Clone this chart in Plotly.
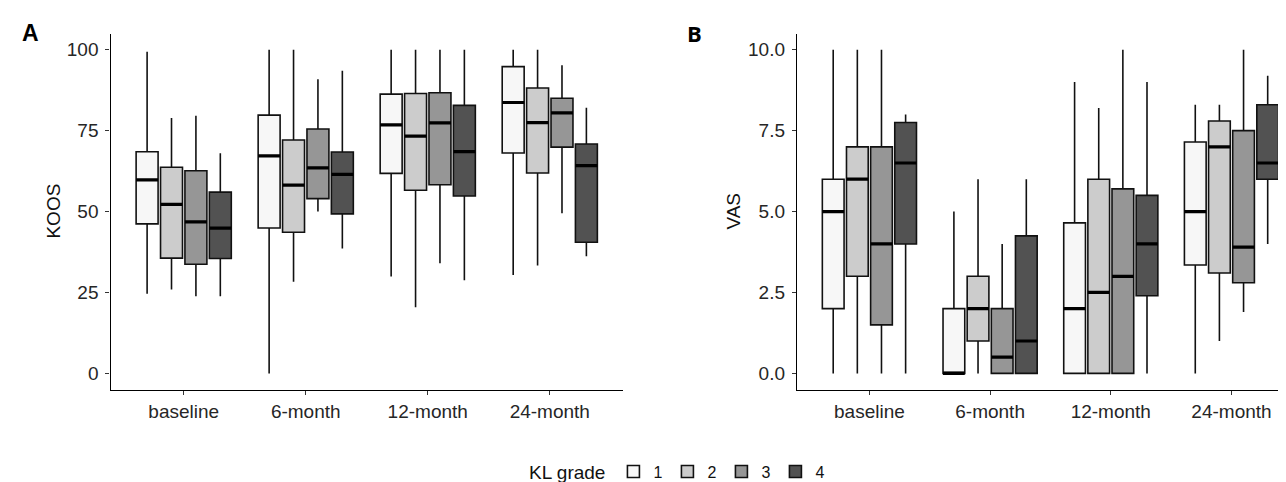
import plotly.graph_objects as go

timepoints = ["baseline", "6-month", "12-month", "24-month"]
grades = ["1", "2", "3", "4"]
fills = ["#F7F7F7", "#CCCCCC", "#969696", "#525252"]

# KOOS (panel A): per KL grade, values across timepoints
koos_low = {
    "1": [24.6, 0.0, 29.9, 30.4],
    "2": [25.9, 28.3, 20.4, 33.3],
    "3": [23.8, 50.0, 34.0, 49.5],
    "4": [23.8, 38.6, 28.8, 36.2],
}
koos_q1 = {
    "1": [46.2, 44.9, 61.8, 68.1],
    "2": [35.6, 43.6, 56.6, 61.9],
    "3": [33.7, 54.0, 58.3, 69.9],
    "4": [35.5, 49.3, 54.8, 40.5],
}
koos_med = {
    "1": [59.8, 67.2, 76.8, 83.7],
    "2": [52.2, 58.2, 73.3, 77.5],
    "3": [46.8, 63.5, 77.4, 80.5],
    "4": [44.9, 61.5, 68.5, 64.2],
}
koos_q3 = {
    "1": [68.5, 79.8, 86.3, 94.8],
    "2": [63.7, 72.1, 86.5, 88.2],
    "3": [62.6, 75.5, 86.7, 85.0],
    "4": [56.0, 68.4, 82.8, 70.9],
}
koos_high = {
    "1": [99.4, 100.0, 100.0, 100.0],
    "2": [78.9, 100.0, 100.0, 100.0],
    "3": [79.6, 90.9, 100.0, 95.2],
    "4": [68.0, 93.5, 100.0, 82.1],
}

# VAS (panel B)
vas_low = {
    "1": [0.0, 0.0, 0.0, 0.0],
    "2": [0.0, 0.0, 0.0, 1.0],
    "3": [0.0, 0.0, 0.0, 1.9],
    "4": [0.0, 0.0, 0.0, 4.0],
}
vas_q1 = {
    "1": [2.0, 0.0, 0.0, 3.35],
    "2": [3.0, 1.0, 0.0, 3.1],
    "3": [1.5, 0.0, 0.0, 2.8],
    "4": [4.0, 0.0, 2.4, 6.0],
}
vas_med = {
    "1": [5.0, 0.0, 2.0, 5.0],
    "2": [6.0, 2.0, 2.5, 7.0],
    "3": [4.0, 0.5, 3.0, 3.9],
    "4": [6.5, 1.0, 4.0, 6.5],
}
vas_q3 = {
    "1": [6.0, 2.0, 4.65, 7.15],
    "2": [7.0, 3.0, 6.0, 7.8],
    "3": [7.0, 2.0, 5.7, 7.5],
    "4": [7.75, 4.25, 5.5, 8.3],
}
vas_high = {
    "1": [10.0, 5.0, 9.0, 8.3],
    "2": [10.0, 6.0, 8.2, 8.3],
    "3": [10.0, 4.0, 10.0, 10.0],
    "4": [8.0, 6.0, 9.0, 9.2],
}

koos_ticks = [0, 25, 50, 75, 100]
koos_ticklabels = ["0", "25", "50", "75", "100"]
vas_ticks = [0, 2.5, 5, 7.5, 10]
vas_ticklabels = ["0.0", "2.5", "5.0", "7.5", "10.0"]

FONT = "Liberation Sans, Arial, sans-serif"
W, H = 1286, 482

fig = go.Figure()

panels = [
    ("x", "y", koos_low, koos_q1, koos_med, koos_q3, koos_high, "A"),
    ("x2", "y2", vas_low, vas_q1, vas_med, vas_q3, vas_high, "B"),
]

for xa, ya, lo, q1, md, q3, hi, tag in panels:
    for g, col in zip(grades, fills):
        fig.add_trace(go.Box(
            x=timepoints, q1=q1[g], median=md[g], q3=q3[g],
            lowerfence=lo[g], upperfence=hi[g],
            name=g, legendgroup=g, showlegend=(tag == "A"),
            fillcolor=col, line=dict(color="#111111", width=1.6),
            whiskerwidth=0, boxpoints=False, hoverinfo="skip",
            offsetgroup=g, alignmentgroup=tag,
            xaxis=xa, yaxis=ya,
        ))
        # thicker median bar drawn on top of each box
        fig.add_trace(go.Box(
            x=timepoints, q1=md[g], median=md[g], q3=md[g],
            lowerfence=md[g], upperfence=md[g],
            name=g, legendgroup=g, showlegend=False,
            fillcolor="rgba(0,0,0,0)", line=dict(color="#000000", width=3.2),
            whiskerwidth=0, boxpoints=False, hoverinfo="skip",
            offsetgroup=g, alignmentgroup=tag,
            xaxis=xa, yaxis=ya,
        ))

ydom = [(H - 388) / H, (H - 26) / H]
axis_common = dict(
    showline=True, linecolor="#000000", linewidth=1.4,
    ticks="outside", ticklen=4, tickwidth=1.2, tickcolor="#333333",
    showgrid=False, zeroline=False,
    tickfont=dict(family=FONT, size=19, color="#262626"),
)

fig.update_layout(
    width=W, height=H,
    margin=dict(l=0, r=0, t=0, b=0),
    paper_bgcolor="white", plot_bgcolor="white",
    boxmode="group", boxgap=0.2, boxgroupgap=0.1,
    font=dict(family=FONT, size=19, color="#000000"),
    xaxis=dict(domain=[102.5 / W, 615 / W], type="category",
               categoryorder="array", categoryarray=timepoints,
               range=[-0.6, 3.6], anchor="y", **axis_common),
    yaxis=dict(domain=ydom, range=[-5, 105], tickvals=koos_ticks,
               ticktext=koos_ticklabels, anchor="x", ticklabelstandoff=3,
               **axis_common),
    xaxis2=dict(domain=[789 / W, 1.0], type="category",
                categoryorder="array", categoryarray=timepoints,
                range=[-0.6, 3.518], anchor="y2", **axis_common),
    yaxis2=dict(domain=ydom, range=[-0.5, 10.5], tickvals=vas_ticks,
                ticktext=vas_ticklabels, anchor="x2", ticklabelstandoff=3,
                **axis_common),
    legend=dict(
        orientation="h", x=519 / W, xanchor="left",
        y=(H - 472) / H, yanchor="middle",
        title=dict(text="KL grade", side="left",
                   font=dict(family=FONT, size=19, color="#111111")),
        font=dict(family=FONT, size=16, color="#111111"),
        itemwidth=30, tracegroupgap=0,
    ),
    annotations=[
        dict(text="KOOS", x=46 / W, y=(H - 207) / H, xref="paper", yref="paper",
             textangle=-90, showarrow=False, xanchor="center", yanchor="middle",
             font=dict(family=FONT, size=19, color="#111111")),
        dict(text="VAS", x=726 / W, y=(H - 207) / H, xref="paper", yref="paper",
             textangle=-90, showarrow=False, xanchor="center", yanchor="middle",
             font=dict(family=FONT, size=19, color="#111111")),
        dict(text="<b>A</b>", x=12 / W, y=(H - 25) / H, xref="paper", yref="paper",
             showarrow=False, xanchor="left", yanchor="middle",
             font=dict(family="Liberation Sans, Arial, sans-serif", size=23, color="#000000")),
        dict(text="<b>B</b>", x=677 / W, y=(H - 25) / H, xref="paper", yref="paper",
             showarrow=False, xanchor="left", yanchor="middle",
             font=dict(family="Open Sans, sans-serif", size=22, color="#000000")),
    ],
)

fig.write_html("out.html")
